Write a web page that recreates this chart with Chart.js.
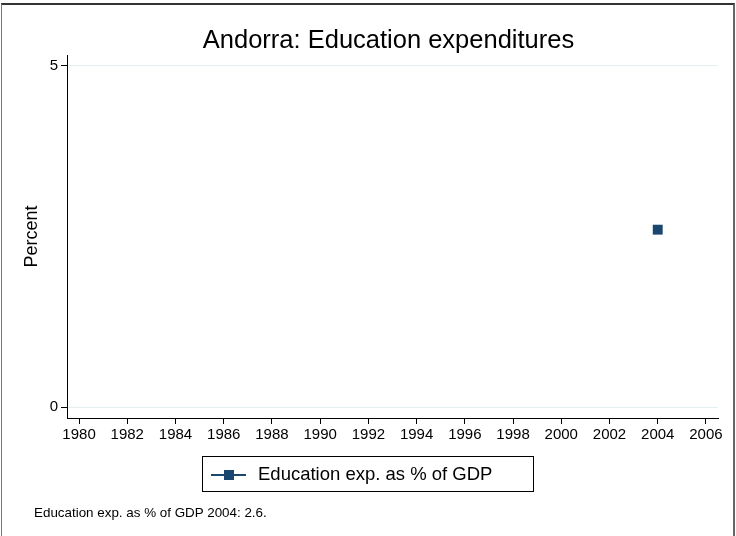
<!DOCTYPE html>
<html>
<head>
<meta charset="utf-8">
<script src="https://cdn.jsdelivr.net/npm/chart.js@4"></script>
<style>
  body { margin: 0; background: #fff; }
  #wrap { position: relative; width: 736px; height: 536px; font-family: "Liberation Sans", Arial, sans-serif; }
  #frame { position: absolute; left: 1px; top: 3px; width: 731px; height: 540px; border-top: 2px solid #333; border-left: 1px solid #777; border-right: 2px solid #666; }
  #legend { position: absolute; left: 202px; top: 456px; width: 330px; height: 34px; border: 1px solid #000; box-sizing: content-box; }
  #legend .line { position: absolute; left: 8px; top: 17px; width: 35px; height: 2px; background: #1a476f; }
  #legend .mark { position: absolute; left: 21px; top: 13px; width: 10px; height: 10px; background: #1a476f; }
  #legend .txt { position: absolute; left: 55px; top: 6px; font-size: 18.5px; color: #000; white-space: nowrap; }
  #note { position: absolute; left: 34px; top: 505px; font-size: 13.4px; color: #000; white-space: nowrap; }
</style>
</head>
<body>
<div id="wrap">
  <canvas id="eduChart" width="736" height="536"></canvas>
  <div id="frame"></div>
  <div id="legend"><div class="line"></div><div class="mark"></div><div class="txt" id="legendText"></div></div>
  <div id="note"></div>
</div>
<script>
const years = [2004];
const eduValues = [2.6];
const xTicks = [1980, 1982, 1984, 1986, 1988, 1990, 1992, 1994, 1996, 1998, 2000, 2002, 2004, 2006];
const yTicks = [0, 5];
const seriesLabel = 'Education exp. as % of GDP';
const chartTitle = 'Andorra: Education expenditures';

document.getElementById('legendText').textContent = seriesLabel;
document.getElementById('note').textContent = seriesLabel + ' ' + years[0] + ': ' + eduValues[0] + '.';

// title roughly centred over the plot region, like Stata does
const plotTitle = {
  id: 'plotTitle',
  afterDraw(chart) {
    const c = chart.ctx;
    const a = chart.chartArea;
    c.save();
    c.fillStyle = '#000';
    c.font = '25.5px "Liberation Sans"';
    c.textAlign = 'center';
    c.textBaseline = 'middle';
    c.fillText(chartTitle, (a.left + a.right) / 2 - 4, 41);
    c.restore();
  }
};

const ctx = document.getElementById('eduChart').getContext('2d');

new Chart(ctx, {
  type: 'line',
  data: {
    datasets: [{
      label: seriesLabel,
      data: years.map((y, i) => ({ x: y, y: eduValues[i] })),
      borderColor: '#1a476f',
      backgroundColor: '#1a476f',
      pointStyle: 'rect',
      pointRadius: 7,
      pointBorderWidth: 0,
      borderWidth: 2
    }]
  },
  options: {
    responsive: false,
    animation: false,
    layout: { padding: { left: 0, right: 18, top: 55, bottom: 0 } },
    plugins: {
      legend: { display: false },
      tooltip: { enabled: false },
      title: { display: false }
    },
    scales: {
      x: {
        type: 'linear',
        min: 1979.5,
        max: 2006.5,
        afterBuildTicks: s => { s.ticks = xTicks.map(v => ({ value: v })); },
        afterFit: s => { s.height = 118; },
        ticks: {
          color: '#000',
          font: { family: 'Liberation Sans', size: 15 },
          padding: 2,
          maxRotation: 0,
          autoSkip: false,
          callback: v => String(v)
        },
        grid: { drawOnChartArea: false, tickLength: 6, tickColor: '#000' },
        border: { color: '#000', width: 1 }
      },
      y: {
        min: -0.16,
        max: 5.16,
        afterBuildTicks: s => { s.ticks = yTicks.map(v => ({ value: v })); },
        afterFit: s => { s.width = 67; },
        ticks: { color: '#000', font: { family: 'Liberation Sans', size: 15 }, padding: 3 },
        grid: { color: '#e6eff2', tickLength: 6, tickColor: '#000' },
        border: { color: '#000', width: 1 },
        title: {
          display: true,
          text: 'Percent',
          color: '#000',
          font: { family: 'Liberation Sans', size: 18 },
          padding: { top: 21, bottom: 0 }
        }
      }
    }
  },
  plugins: [plotTitle]
});
</script>
</body>
</html>
